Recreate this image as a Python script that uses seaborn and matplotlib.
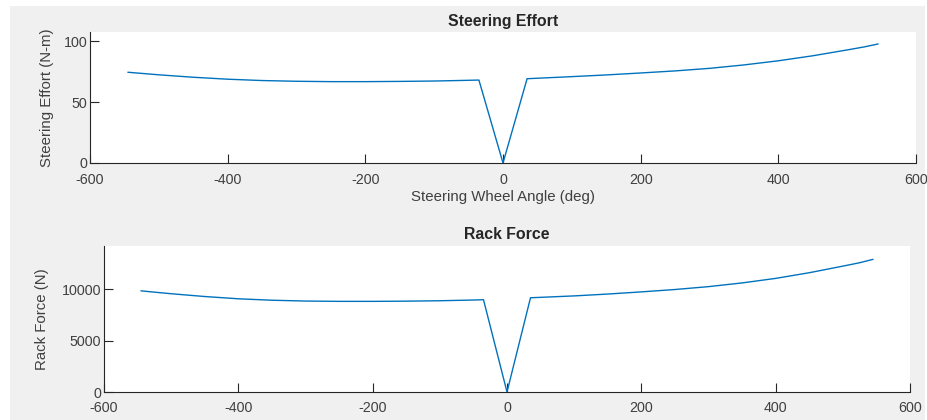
import matplotlib
matplotlib.use("Agg")
import matplotlib.pyplot as plt
import seaborn as sns
import pandas as pd
from matplotlib.patches import Rectangle

# steering wheel angle (deg)
angle = [-545, -500, -450, -400, -350, -300, -250, -200, -150, -100, -50, -35,
         0, 35, 50, 100, 150, 200, 250, 300, 350, 400, 450, 500, 525, 545]
# steering effort (N-m)
effort = [74.4, 72.3, 70.3, 68.7, 67.6, 67.0, 66.7, 66.7, 66.9, 67.2, 67.8, 68.0,
          0.0, 69.1, 69.5, 70.8, 72.2, 73.8, 75.5, 77.6, 80.4, 83.8, 87.9, 92.7, 95.2, 97.6]
# rack force (N)
rack_force = [9820, 9540, 9270, 9050, 8910, 8830, 8800, 8800, 8820, 8860, 8930, 8960,
              0, 9150, 9190, 9330, 9510, 9720, 9950, 10230, 10590, 11030, 11580, 12220, 12550, 12880]

df = pd.DataFrame({'Angle': angle, 'Effort': effort, 'RackForce': rack_force})

sns.set_style("white")
plt.rcParams['font.family'] = ['Liberation Sans', 'DejaVu Sans']
plt.rcParams['axes.unicode_minus'] = False

line_col = '#0072BD'
axis_col = '#262626'

fig = plt.figure(figsize=(9.27, 4.2), dpi=100, facecolor='white')
# grey window panel (behind the axes)
fig.patches.append(Rectangle((10/927, 0), 915/927, 414/420, transform=fig.transFigure,
                             facecolor='#f0f0f0', edgecolor='none', zorder=-10))

ax1 = fig.add_axes([90/927, 1 - 163/420, 826/927, 131/420])
ax2 = fig.add_axes([104/927, 1 - 392/420, 806/927, 146/420])

sns.lineplot(x='Angle', y='Effort', data=df, ax=ax1, color=line_col, linewidth=1.0)
sns.lineplot(x='Angle', y='RackForce', data=df, ax=ax2, color=line_col, linewidth=1.0)

ax1.set_xlim(-600, 600)
ax1.set_ylim(0, 107.4)
ax1.set_yticks([0, 50, 100])
ax1.set_title('Steering Effort', fontsize=11.4, fontweight='bold', pad=4)
ax1.set_xlabel('Steering Wheel Angle (deg)', fontsize=10.8, color='#404040', labelpad=2)
ax1.set_ylabel('Steering Effort (N-m)', fontsize=10.8, color='#404040', labelpad=7)

ax2.set_xlim(-600, 600)
ax2.set_ylim(0, 14175)
ax2.set_yticks([0, 5000, 10000])
ax2.set_title('Rack Force', fontsize=11.4, fontweight='bold', pad=5)
ax2.set_xlabel('')
ax2.set_ylabel('Rack Force (N)', fontsize=10.8, color='#404040', labelpad=9)

for ax in (ax1, ax2):
    ax.set_facecolor('white')
    ax.set_xticks([-600, -400, -200, 0, 200, 400, 600])
    for side in ('top', 'right'):
        ax.spines[side].set_visible(False)
    for side in ('bottom', 'left'):
        ax.spines[side].set_color(axis_col)
        ax.spines[side].set_linewidth(0.8)
    ax.tick_params(axis='both', direction='in', length=6.3, width=0.8, colors=axis_col,
                   labelsize=10.3, labelcolor='#404040', bottom=True, left=True)
    ax.tick_params(axis='y', pad=2)
ax1.tick_params(axis='x', pad=7.5)
ax2.tick_params(axis='x', pad=6.5)

fig.savefig('out.png', dpi=100, facecolor=fig.get_facecolor())
